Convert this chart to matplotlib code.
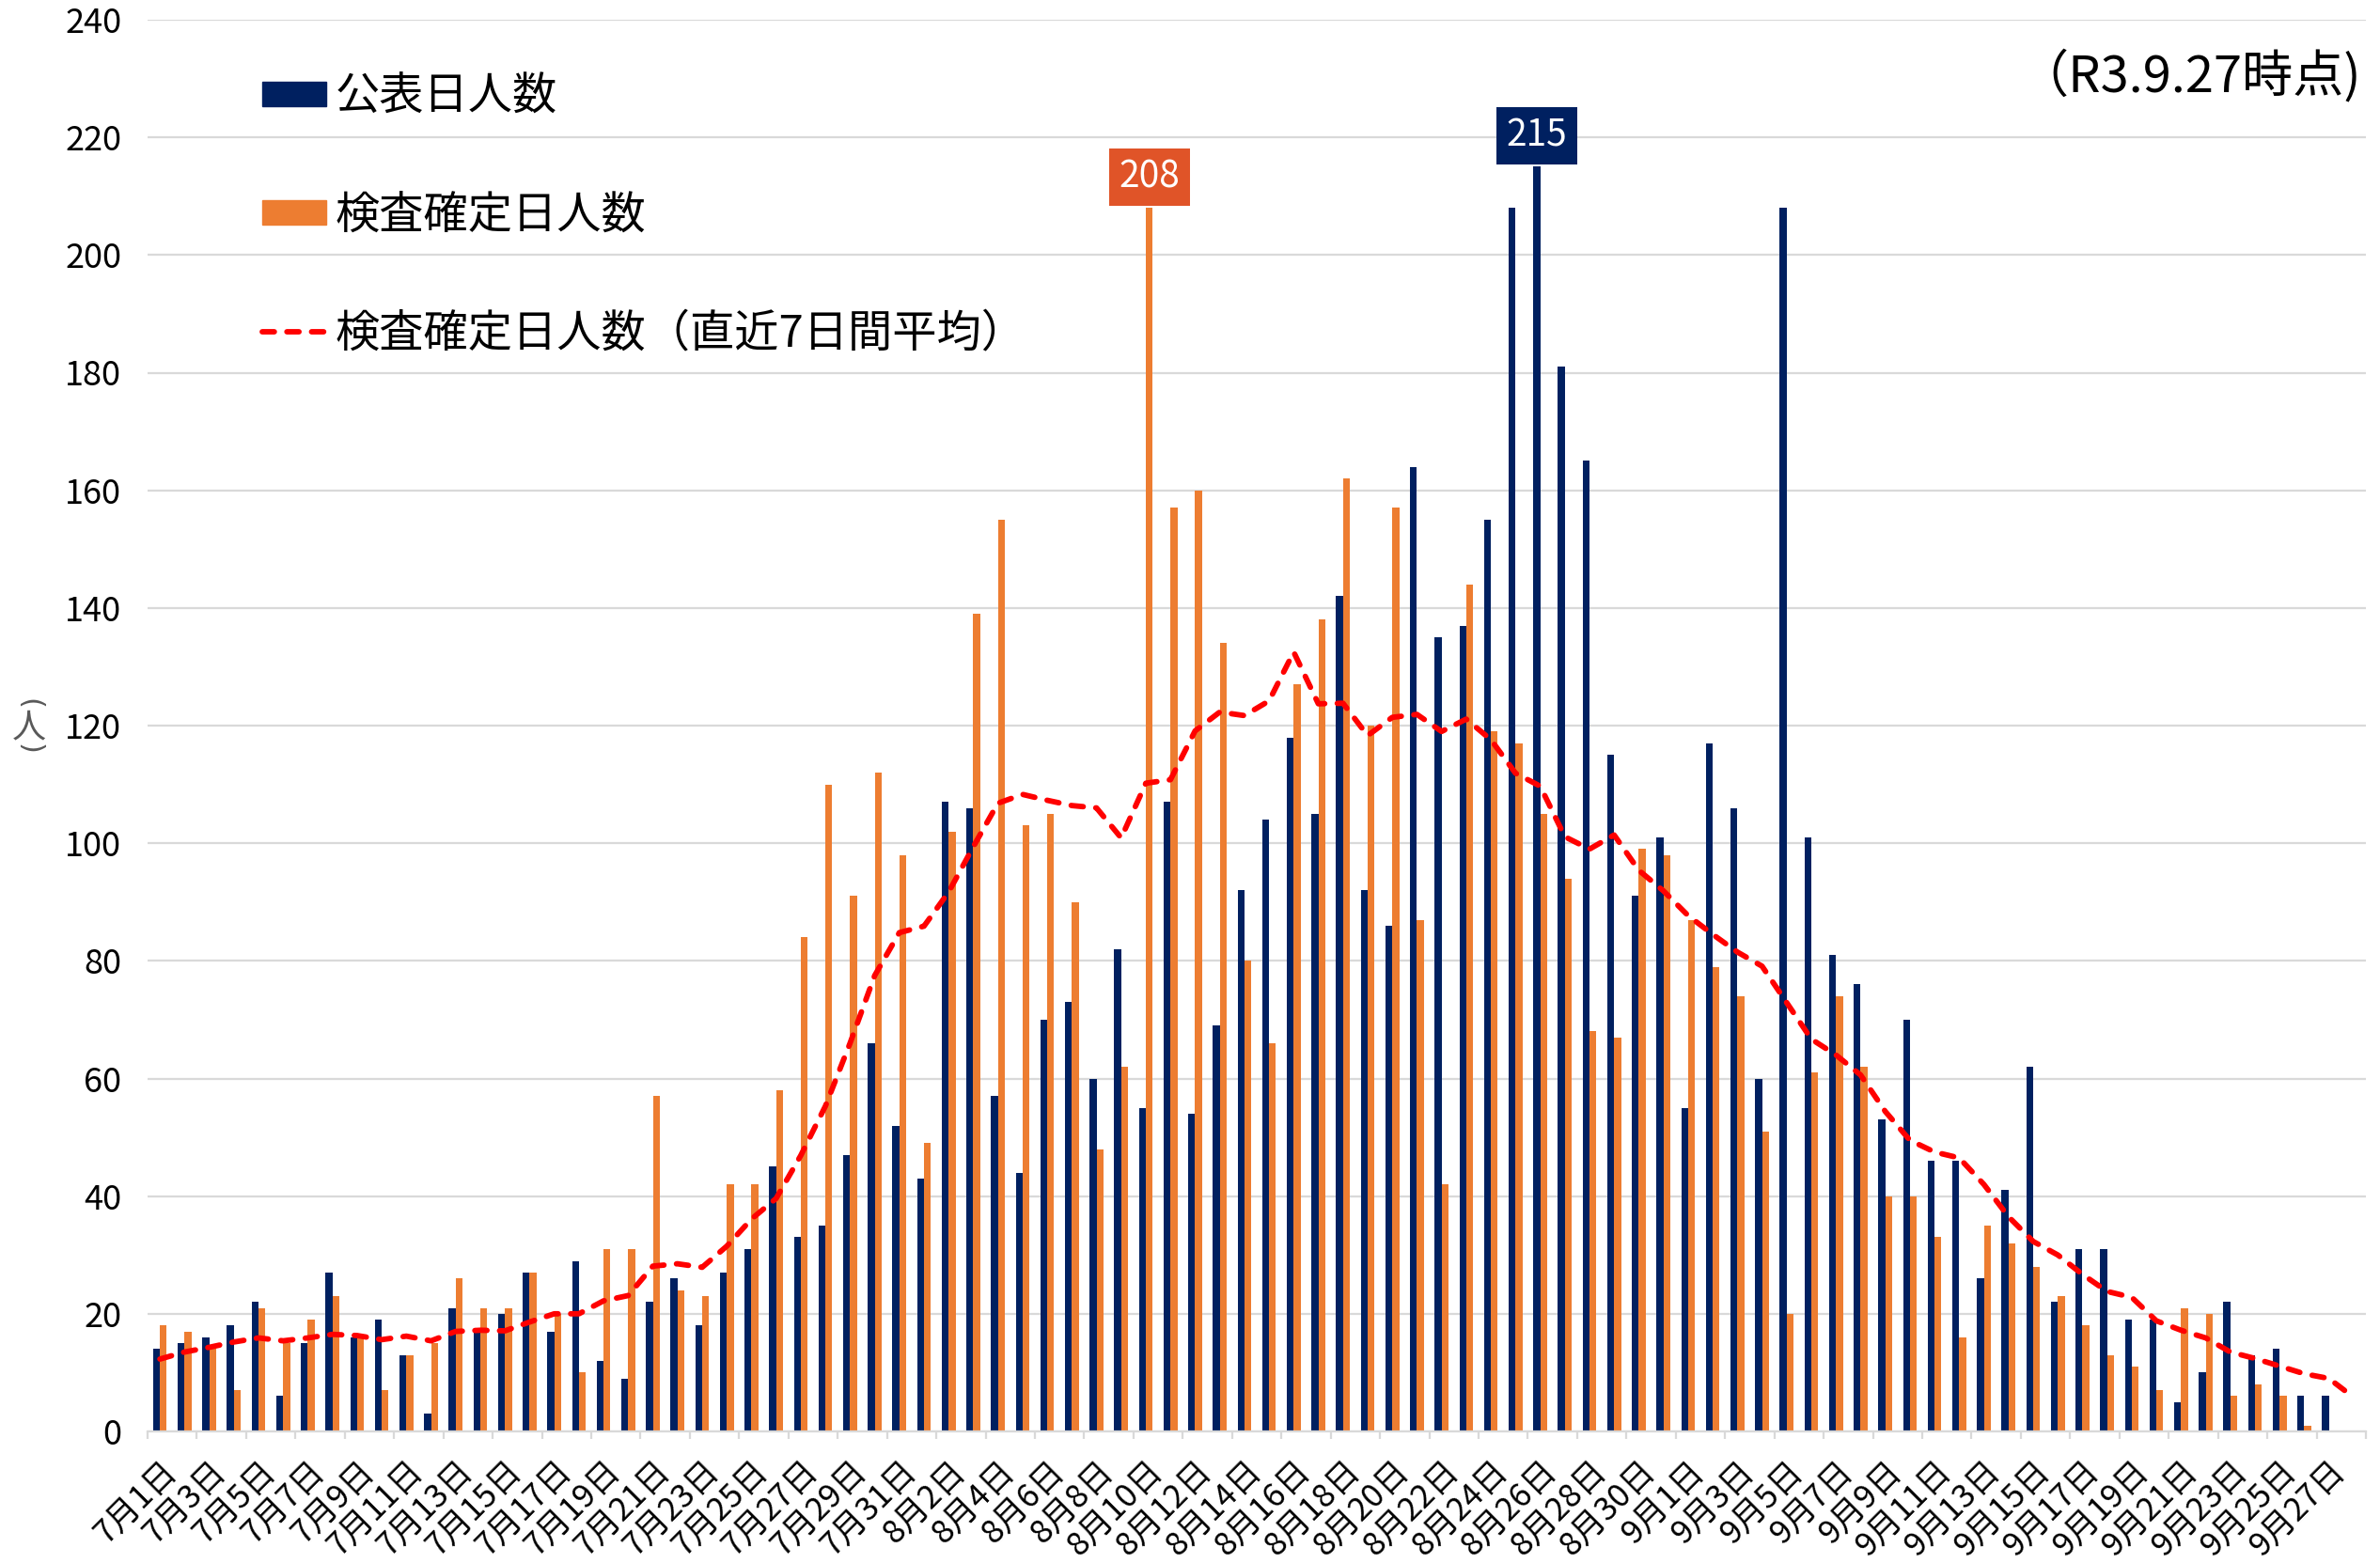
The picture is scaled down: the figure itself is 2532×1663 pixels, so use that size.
import numpy as np
import matplotlib
matplotlib.use("Agg")
import matplotlib.pyplot as plt
from matplotlib.patches import Patch
from matplotlib.lines import Line2D

plt.rcParams['font.family'] = ['Noto Sans CJK JP', 'DejaVu Sans']

# ---- categories: 7/1 .. 9/28 ----
months = [(7, 31), (8, 31), (9, 28)]
categories = [f"{m}月{d}日" for m, n in months for d in range(1, n + 1)]

# 公表日人数
kohyo = [14, 15, 16, 18, 22, 6, 15, 27, 16, 19, 13, 3, 21, 17, 20, 27, 17, 29, 12, 9,
         22, 26, 18, 27, 31, 45, 33, 35, 47, 66, 52,
         43, 107, 106, 57, 44, 70, 73, 60, 82, 55, 107, 54, 69, 92, 104, 118, 105, 142, 92, 86,
         164, 135, 137, 155, 208, 215, 181, 165, 115, 91, 101,
         55, 117, 106, 60, 208, 101, 81, 76, 53, 70, 46, 46, 26, 41, 62, 22, 31, 31, 19, 19,
         5, 10, 22, 13, 14, 6, 6, 0]

# 検査確定日人数
kensa = [18, 17, 14, 7, 21, 15, 19, 23, 16, 7, 13, 15, 26, 21, 21, 27, 20, 10, 31, 31,
         57, 24, 23, 42, 42, 58, 84, 110, 91, 112, 98,
         49, 102, 139, 155, 103, 105, 90, 48, 62, 208, 157, 160, 134, 80, 66, 127, 138, 162, 120, 157,
         87, 42, 144, 119, 117, 105, 94, 68, 67, 99, 98,
         87, 79, 74, 51, 20, 61, 74, 62, 40, 40, 33, 16, 35, 32, 28, 23, 18, 13, 11, 7,
         21, 20, 6, 8, 6, 1, 0, 0]

# 検査確定日人数(直近7日間平均)
ma7 = [12.3, 13.5, 14.3, 15.2, 15.9, 15.4, 15.9, 16.5, 16.3, 15.6, 16.2, 15.4, 17.0, 17.2, 17.1,
       18.6, 20.0, 20.0, 22.2, 23.1, 28.1, 28.5, 27.9, 31.5, 36.1, 39.6, 46.9, 55.3, 66.0, 77.5, 84.8,
       85.9, 91.7, 99.4, 106.8, 108.3, 107.3, 106.4, 106.0, 100.9, 110.2, 110.8, 119.1, 122.3, 121.7,
       124.2, 132.5, 123.7, 123.8, 118.3, 121.4, 121.9, 119.0, 121.1, 117.6, 111.9, 109.7, 101.1,
       99.0, 101.4, 95.4, 91.9,
       87.7, 84.5, 81.5, 79.1, 72.9, 66.7, 64.0, 60.6, 54.4, 49.5, 47.5, 46.5, 42.0, 36.5, 32.3,
       30.0, 26.7, 23.8, 22.8, 18.8, 17.2, 15.9, 13.5, 12.4, 11.1, 9.8, 9.0, 5.8]

labels_legend = ["公表日人数", "検査確定日人数", "検査確定日人数（直近7日間平均）"]

NAVY = '#002060'
ORANGE = '#ED7D31'
RED = '#FF0000'
GRID = '#d9d9d9'

W, H = 2532, 1663
fig = plt.figure(figsize=(W / 100, H / 100), dpi=100)
ax = fig.add_axes([157 / W, 1 - 1523 / H, 2360 / W, 1502 / H])

x = np.arange(len(categories))
ax.bar(x - 0.14, kohyo, width=0.28, color=NAVY, zorder=2)
ax.bar(x + 0.14, kensa, width=0.28, color=ORANGE, zorder=2)
ax.plot(x, ma7, color=RED, lw=4.2, linestyle=(0, (2.2, 2.3)),
        dash_capstyle='round', zorder=3)

ax.set_xlim(-0.5, len(categories) - 0.5)
ax.set_ylim(0, 240)
ax.set_yticks(range(0, 241, 20))
ax.yaxis.grid(True, color=GRID, lw=1.6)
ax.set_axisbelow(True)
for s in ['left', 'right', 'top']:
    ax.spines[s].set_visible(False)
ax.spines['bottom'].set_color(GRID)
ax.spines['bottom'].set_linewidth(1.6)
ax.tick_params(axis='y', length=0, pad=20, labelsize=26)

# x ticks: boundaries every 2 categories, labels at every other category
ax.set_xticks(np.arange(-0.5, len(categories), 2))
ax.set_xticklabels([])
ax.tick_params(axis='x', which='major', length=6, width=1.6, color=GRID)
ax.set_xticks(x[::2], [categories[i] for i in x[::2]], minor=True)
ax.tick_params(axis='x', which='minor', length=0, pad=18, labelsize=25)
for lab in ax.get_xticklabels(minor=True):
    lab.set_rotation(45)
    lab.set_ha('right')
    lab.set_va('top')
    lab.set_rotation_mode('anchor')

# legend
handles = [Patch(color=NAVY), Patch(color=ORANGE),
           Line2D([0], [0], color=RED, lw=4.2, linestyle=(0, (2.2, 2.3)), dash_capstyle='round')]
ax.legend(handles, labels_legend, loc='upper left', bbox_to_anchor=(0.0517, 0.961),
          frameon=False, fontsize=34, handlelength=1.45, handleheight=0.47,
          handletextpad=0.19, labelspacing=1.63, borderpad=0, borderaxespad=0)

# data labels
i208 = int(np.argmax(kensa))
i215 = int(np.argmax(kohyo))
ax.text(i208 + 0.14, 213.2, str(kensa[i208]), ha='center', va='center', fontsize=28,
        color='white', zorder=5,
        bbox=dict(boxstyle='square,pad=0.27', fc='#E05428', ec='none'))
ax.text(i215 - 0.14, 220.2, str(kohyo[i215]), ha='center', va='center', fontsize=28,
        color='white', zorder=5,
        bbox=dict(boxstyle='square,pad=0.27', fc=NAVY, ec='none'))

# as-of note
ax.text(0.998, 0.960, "（R3.9.27時点)", transform=ax.transAxes, ha='right', va='center',
        fontsize=39)

# y axis unit label (vertical)
fig.text(31 / W, 1 - 749 / H, "(", rotation=-90, ha='center', va='center', fontsize=22,
         color='#595959', family=['DejaVu Sans'])
fig.text(31 / W, 1 - 774 / H, "人", ha='center', va='center', fontsize=26, color='#595959')
fig.text(31 / W, 1 - 797 / H, ")", rotation=-90, ha='center', va='center', fontsize=22,
         color='#595959', family=['DejaVu Sans'])

fig.savefig('out.png', dpi=100)
